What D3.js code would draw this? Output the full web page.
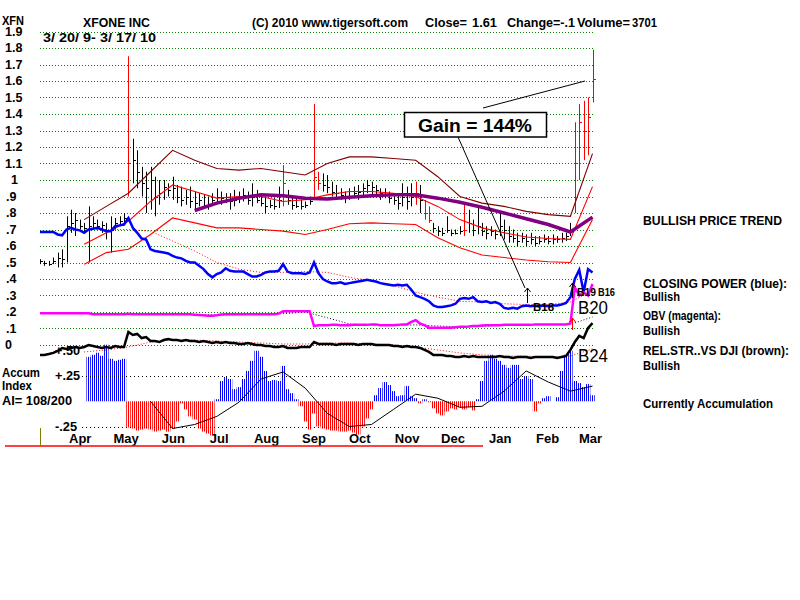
<!DOCTYPE html>
<html><head><meta charset="utf-8">
<script src="https://cdn.jsdelivr.net/npm/d3@7"></script>
<style>body{margin:0;background:#fff}svg text{font-family:"Liberation Sans",Arial,sans-serif}</style>
</head><body><svg id="c" width="800" height="600"></svg>
<script>
// ---------------- DATA ----------------
const priceTicks = [0,0.1,0.2,0.3,0.4,0.5,0.6,0.7,0.8,0.9,1.0,1.1,1.2,1.3,1.4,1.5,1.6,1.7,1.8,1.9];
const monthTicks = ["2009-04-15","2009-05-15","2009-06-15","2009-07-15","2009-08-15","2009-09-15","2009-10-15","2009-11-15","2009-12-15","2010-01-15","2010-02-15","2010-03-15"];
const dateRange = ["2009-03-20","2010-03-17"];
const accumTicks = [0.5,0.25,-0.25];
const accumTickLabels = ["+.50","+.25","-.25"];

// daily bars sampled every 2 trading days
const high = [.52,.51,.51,.53,.56,.58,.78,.82,.80,.76,
 .74,.84,.78,.76,.75,.74,.78,.77,.78,.80,
 1.75,1.25,1.18,1.08,1.05,1.08,1.02,1.00,1.00,.98,
 1.02,.97,.96,.94,.96,.93,.92,.91,.90,.92,
 .95,.93,.92,.92,.94,.93,.95,.93,.98,.94,
 .92,.90,.88,.89,.96,1.09,.94,.90,.89,.88,
 .87,.90,1.46,1.05,1.04,1.03,.99,.97,.95,.93,
 .95,.96,.97,.98,1.00,.99,.97,.95,.95,.93,
 .92,.91,.98,.96,.98,.99,.97,.88,.84,.74,
 .72,.71,.78,.70,.70,.72,.85,.82,.76,.84,
 .74,.72,.72,.70,.80,.76,.72,.70,.68,.68,
 .67,.68,.66,.66,.67,.66,.67,.66,.68,.68,
 .74,1.35,1.46,1.48,1.50,1.79];
const low = [.49,.48,.48,.49,.47,.47,.50,.68,.66,.70,
 .68,.50,.70,.70,.68,.64,.56,.70,.72,.74,
 .90,.98,.95,.90,.80,.82,.78,.85,.88,.90,
 .88,.86,.84,.85,.83,.82,.84,.83,.82,.85,
 .86,.85,.86,.82,.84,.86,.87,.85,.84,.86,
 .84,.80,.83,.82,.83,.84,.85,.82,.83,.82,
 .83,.85,.88,.94,.93,.92,.90,.89,.88,.86,
 .88,.89,.88,.90,.92,.91,.90,.88,.89,.86,
 .85,.82,.84,.82,.84,.85,.80,.76,.74,.68,
 .66,.66,.68,.66,.67,.67,.66,.68,.66,.67,
 .66,.64,.66,.64,.66,.64,.62,.62,.60,.62,
 .60,.61,.60,.61,.62,.61,.61,.62,.62,.63,
 .66,.80,1.00,1.12,1.15,1.47];
const close = [.51,.50,.49,.51,.53,.52,.72,.74,.76,.72,
 .71,.72,.74,.72,.73,.70,.70,.74,.75,.77,
 1.10,1.12,1.05,.98,.95,1.00,.90,.92,.96,.94,
 .95,.90,.88,.90,.87,.86,.88,.85,.84,.88,
 .90,.89,.90,.87,.88,.90,.91,.88,.90,.88,
 .86,.84,.85,.84,.88,.98,.88,.85,.84,.84,
 .85,.87,1.02,.98,.97,.96,.93,.92,.91,.89,
 .90,.92,.93,.95,.97,.96,.94,.92,.91,.89,
 .88,.86,.90,.87,.90,.92,.88,.80,.76,.71,
 .69,.68,.70,.68,.68,.69,.70,.74,.70,.72,
 .69,.68,.69,.67,.72,.70,.66,.65,.63,.65,
 .63,.64,.62,.63,.64,.63,.64,.64,.65,.66,
 .70,1.10,1.35,1.30,1.38,1.61];
const highVolumeBars = [20,55,62,63,85,87,88,96,121,122,123,124,125];

const closingPower = [.685,.685,.685,.685,.67,.665,.70,.71,.70,.695,
 .68,.70,.705,.71,.70,.69,.69,.72,.725,.73,
 .77,.71,.68,.645,.64,.58,.57,.565,.56,.555,
 .54,.53,.525,.51,.50,.50,.48,.46,.43,.41,
 .43,.44,.465,.45,.445,.445,.445,.43,.415,.415,
 .425,.44,.445,.445,.45,.49,.445,.435,.435,.435,
 .43,.44,.50,.435,.40,.385,.375,.375,.38,.37,
 .375,.38,.385,.39,.395,.39,.385,.375,.37,.365,
 .36,.365,.36,.365,.335,.30,.29,.28,.265,.24,
 .23,.23,.235,.24,.25,.28,.285,.28,.29,.265,
 .26,.265,.255,.26,.25,.225,.22,.225,.22,.235,
 .24,.235,.24,.235,.24,.235,.24,.24,.245,.255,
 .29,.40,.455,.32,.46,.44];
const obv = [.192,.192,.192,.192,.192,.192,.192,.192,.192,.192,
 .192,.192,.186,.186,.186,.186,.186,.186,.186,.186,
 .19,.186,.186,.186,.186,.186,.186,.186,.186,.186,
 .186,.186,.186,.186,.186,.184,.182,.18,.178,.178,
 .18,.185,.186,.186,.186,.186,.186,.186,.186,.186,
 .186,.186,.186,.186,.19,.205,.205,.205,.205,.205,
 .205,.205,.115,.12,.12,.12,.122,.122,.12,.12,
 .12,.122,.122,.122,.122,.125,.125,.12,.12,.12,
 .12,.122,.125,.125,.14,.15,.13,.12,.105,.105,
 .105,.105,.105,.105,.108,.11,.11,.112,.115,.115,
 .118,.12,.12,.12,.12,.122,.122,.122,.122,.122,
 .122,.122,.125,.125,.125,.125,.125,.125,.125,.125,
 .13,.35,.30,.32,.30,.37];
const relStr = [-.061,-.061,-.055,-.048,-.036,-.018,-.024,-.018,-.012,-.018,
 -.012,0,-.006,-.012,-.018,-.012,-.018,-.006,-.012,-.012,
 .079,.061,.067,.042,.048,.024,.024,.018,.030,.036,
 .030,.030,.024,.030,.024,.024,.018,.024,.018,.012,
 .018,.012,.018,.012,.012,.006,.006,.012,.006,0,
 0,-.006,-.006,-.012,-.012,-.006,-.018,-.018,-.018,-.012,
 -.012,-.012,.018,.006,.006,.006,.006,0,.006,.006,
 .006,.006,0,.006,.006,.006,0,0,0,0,
 -.006,-.006,-.012,-.006,-.012,-.012,-.018,-.030,-.042,-.061,
 -.061,-.061,-.067,-.067,-.073,-.073,-.067,-.073,-.067,-.073,
 -.073,-.073,-.073,-.073,-.067,-.073,-.073,-.079,-.073,-.073,
 -.073,-.079,-.073,-.073,-.073,-.073,-.073,-.079,-.073,-.067,
 -.030,.018,.055,.042,.103,.133];
const accum = [0,0,0,0,0,0,0,0,0,0,
 0,.44,.46,.48,.45,.56,.42,.40,.41,.42,
 -.26,-.27,-.29,-.28,-.27,-.28,-.30,-.29,-.28,-.30,
 -.27,-.20,-.02,-.08,-.15,-.18,-.27,-.30,-.32,-.34,
 .02,.20,.24,.22,.12,.14,.22,.30,.40,.50,
 .44,.30,.20,.21,.20,.35,.12,.08,.02,-.05,
 -.20,-.28,-.12,-.25,-.27,-.28,-.29,-.29,-.30,-.30,
 -.29,-.31,-.33,-.25,-.17,-.08,.06,.13,.19,.16,
 .10,.05,.06,.15,.05,.03,-.02,.02,-.01,-.07,
 -.12,-.14,-.10,-.07,-.08,-.06,-.08,-.06,-.09,.02,
 .20,.40,.46,.42,.40,.36,.33,.36,.36,.22,
 .25,.22,-.10,-.02,.03,.05,0,.04,.30,.46,
 .50,.20,.18,.14,.17,.06];

// smooth studies sampled every 5th bar (every 10 trading days)
const closingPowerMA = [null,null,.70,.70,.70,.69,.63,.57,.50,.46,.44,.44,.445,.44,.41,.39,.36,.32,.29,.265,.26,.25,.245,.245,.26,.33];
const obvMA = [.192,.192,.192,.19,.188,.186,.186,.184,.182,.184,.186,.19,.20,.165,.128,.12,.12,.122,.115,.11,.112,.12,.122,.125,.125,.17];
const bandUpper = [null,null,.76,.84,.92,1.05,1.18,1.12,1.07,1.06,1.07,1.05,1.03,1.10,1.14,1.14,1.13,1.12,1.02,.90,.86,.84,.81,.79,.78,1.16];
const bandMid = [null,null,.61,.68,.75,.87,.97,.93,.89,.90,.90,.87,.88,.91,.93,.93,.92,.90,.84,.76,.71,.68,.655,.645,.64,.96];
const bandLower = [null,null,.49,.56,.58,.67,.77,.74,.71,.71,.70,.69,.67,.70,.735,.74,.735,.73,.65,.59,.545,.53,.515,.505,.50,.76];
const trendMA = [null,null,null,null,null,null,null,.815,.86,.89,.91,.905,.89,.885,.895,.905,.91,.91,.89,.865,.835,.80,.765,.73,.685,.775];
const relStrMA = [null,null,-.042,-.03,-.012,.018,.03,.03,.024,.018,.012,.006,.006,.012,.012,.006,0,-.012,-.03,-.048,-.06,-.067,-.067,-.073,-.067,-.024];
const accumMA = [null,null,null,null,null,0,-.27,-.23,-.15,-.01,.22,.29,.13,-.12,-.25,-.23,-.08,.07,.03,-.06,-.05,.10,.30,.19,.10,.15];
const SAMPLE = 5;

// ---------------- CHART ----------------
const svg = d3.select("#c");
const N = close.length;
const x = d3.scaleLinear().domain([0, N-1]).range([40, 592.5]);
const xs = k => x(k*SAMPLE);
const y = d3.scaleLinear().domain([0, 1.9]).range([345, 31.5]);
const yA = d3.scaleLinear().domain([-0.25, 0.25]).range([426.5, 376]);
const parse = d3.timeParse("%Y-%m-%d");
const xt = d3.scaleTime().domain(dateRange.map(parse)).range([40, 593]);

const defs = svg.append("defs");
[["pBlue","#0000ff"],["pRed","#ff0000"]].forEach(([id,c])=>{
  const p = defs.append("pattern").attr("id",id).attr("width",2).attr("height",4).attr("patternUnits","userSpaceOnUse");
  p.append("rect").attr("width",1).attr("height",4).attr("fill",c);
});

function txt(s, px, py, o={}) {
  const t = svg.append("text").attr("x",px).attr("y",py).text(s)
    .attr("font-size", o.size||13).attr("font-weight", o.weight||"bold").attr("fill", o.fill||"#000");
  if (o.len) t.attr("textLength", o.len).attr("lengthAdjust","spacingAndGlyphs");
  return t;
}

// gridlines
svg.append("g").selectAll("line").data(priceTicks).join("line")
  .attr("x1",40).attr("x2",595).attr("y1",d=>Math.round(y(d))+.5).attr("y2",d=>Math.round(y(d))+.5)
  .attr("stroke","#008000").attr("stroke-dasharray","1,2");

// y axis labels
const yAxis = d3.axisRight(y).tickValues(priceTicks).tickSize(0)
  .tickFormat(d => d===0 ? "0" : (Math.abs(d-1)<1e-9 ? "1" : (d<1 ? "."+Math.round(d*10) : d.toFixed(1))));
const gy = svg.append("g").attr("transform","translate(2,0)").call(yAxis);
gy.select(".domain").remove();
gy.selectAll("text").attr("font-size",12.5).attr("font-weight","bold").attr("fill","#000")
  .attr("font-family","Liberation Sans, Arial, sans-serif").attr("dy","0.3em")
  .attr("x", d => Math.abs(d-1)<1e-9 ? 9 : (d>0 && d<1 ? 4 : 3));

// accumulation histogram
svg.append("g").selectAll("rect").data(accum.map((v,i)=>({v,i})).filter(d=>d.v!==0)).join("rect")
  .attr("x",d=>x(d.i)-2.21).attr("width",4.42)
  .attr("y",d=>Math.min(yA(0),yA(d.v))).attr("height",d=>Math.abs(yA(d.v)-yA(0)))
  .attr("fill",d=>d.v>0?"url(#pBlue)":"url(#pRed)");
// accum dotted levels
svg.append("g").selectAll("line").data([0.25,-0.25]).join("line")
  .attr("x1",82).attr("x2",597).attr("y1",d=>Math.round(yA(d))+.5).attr("y2",d=>Math.round(yA(d))+.5)
  .attr("stroke","#000").attr("stroke-dasharray","1,3");
accumTicks.forEach((v,k)=> txt(accumTickLabels[k], 55, yA(v)+4, {size:12, len: k===2?22:25}));

// price bars
const gb = svg.append("g");
d3.range(N).forEach(i=>{
  const xi = Math.round(x(i))+.5;
  const col = highVolumeBars.includes(i) ? "#ff0000" : "#000";
  gb.append("line").attr("x1",xi).attr("x2",xi).attr("y1",y(high[i])).attr("y2",y(low[i])).attr("stroke",col);
  gb.append("line").attr("x1",xi).attr("x2",xi+2.5).attr("y1",Math.round(y(close[i]))+.5).attr("y2",Math.round(y(close[i]))+.5).attr("stroke",col);
});

const lineS = d3.line().defined(d=>d!=null).x((d,k)=>xs(k)).y(d=>y(d));
const lineD = d3.line().defined(d=>d!=null).x((d,i)=>x(i)).y(d=>y(d));

// bands
svg.append("path").attr("d",lineS(bandUpper)).attr("fill","none").attr("stroke","#800000").attr("stroke-width",1.1);
svg.append("path").attr("d",lineS(bandMid)).attr("fill","none").attr("stroke","#ff0000").attr("stroke-width",1.1);
svg.append("path").attr("d",lineS(bandLower)).attr("fill","none").attr("stroke","#ff0000").attr("stroke-width",1.1);
svg.append("path").attr("d",lineS(trendMA)).attr("fill","none").attr("stroke","#800080").attr("stroke-width",3.5);

// closing power
svg.append("path").attr("d",lineS(closingPowerMA)).attr("fill","none").attr("stroke","#ff0000").attr("stroke-dasharray","1,2");
svg.append("path").attr("d",lineD(closingPower)).attr("fill","none").attr("stroke","#0000ff").attr("stroke-width",2.5);
// OBV
svg.append("path").attr("d",lineS(obvMA)).attr("fill","none").attr("stroke","#000").attr("stroke-dasharray","1,2");
svg.append("path").attr("d",lineD(obv)).attr("fill","none").attr("stroke","#ff00ff").attr("stroke-width",2.5);
// relative strength
svg.append("path").attr("d",lineS(relStrMA)).attr("fill","none").attr("stroke","#ff0000").attr("stroke-dasharray","1,2");
svg.append("path").attr("d",lineD(relStr)).attr("fill","none").attr("stroke","#000").attr("stroke-width",2.5);
// accum MA
svg.append("path").attr("d",d3.line().defined(d=>d!=null).x((d,k)=>xs(k)).y(d=>yA(d))(accumMA))
  .attr("fill","none").attr("stroke","#000").attr("stroke-width",1);

// month axis
const xAxis = d3.axisBottom(xt).tickValues(monthTicks.map(parse)).tickFormat(d3.timeFormat("%b")).tickSize(0);
const gx = svg.append("g").attr("transform","translate(0,443)").call(xAxis);
gx.select(".domain").remove();
gx.selectAll("text").attr("y",0).attr("dy",0).attr("font-size",13).attr("font-weight","bold").attr("fill","#000")
  .attr("font-family","Liberation Sans, Arial, sans-serif");

// bottom markers
svg.append("line").attr("x1",5).attr("x2",483).attr("y1",446).attr("y2",446).attr("stroke","#ff0000").attr("stroke-width",1.5);
svg.append("line").attr("x1",40.5).attr("x2",40.5).attr("y1",428).attr("y2",446).attr("stroke","#808000");

// titles
txt("XFN", 2, 24.5, {size:12, len:22});
txt("XFONE INC", 83, 27, {len:67});
txt("(C) 2010 www.tigersoft.com", 252, 27, {len:156});
txt("Close=", 425, 27, {len:42});
txt("1.61", 472, 27, {len:25});
txt("Change=-.1", 507, 27, {len:68});
txt("Volume=", 577, 27, {len:53});
txt("3701", 632, 27, {len:25});
txt("3/ 20/ 9- 3/ 17/ 10", 43, 42, {len:113});

// right panel
txt("BULLISH PRICE TREND", 643, 225, {size:12, len:139});
txt("CLOSING POWER (blue):", 643, 288, {size:12, len:144});
txt("Bullish", 643, 301, {size:12, len:37});
txt("OBV (magenta):", 643, 320, {size:12, len:78});
txt("Bullish", 643, 335, {size:12, len:37});
txt("REL.STR..VS DJI (brown):", 643, 355, {size:12, len:146});
txt("Bullish", 643, 370, {size:12, len:37});
txt("Currently Accumulation", 643, 408, {size:12, len:130});

// accum labels left
txt("Accum", 2, 377, {size:12, len:38});
txt("Index", 2, 390, {size:12, len:30});
txt("AI= 108/200", 2, 405, {size:12, len:70});

// gain annotation
svg.append("line").attr("x1",483).attr("y1",108).attr("x2",585).attr("y2",81).attr("stroke","#000");
svg.append("line").attr("x1",458).attr("y1",137).attr("x2",525).attr("y2",288).attr("stroke","#000");
svg.append("rect").attr("x",404.5).attr("y",112.5).attr("width",142).attr("height",24.5).attr("fill","#fff").attr("stroke","#000").attr("stroke-width",1.5);
txt("Gain = 144%", 418, 132, {size:18, len:114});

// signals
function arrow(px, y1, y2, col) {
  svg.append("line").attr("x1",px).attr("x2",px).attr("y1",y1).attr("y2",y2).attr("stroke",col);
  svg.append("path").attr("d",`M${px-3},${y2+4}L${px},${y2}L${px+3},${y2+4}`).attr("fill","none").attr("stroke",col);
}
arrow(527.5, 303, 288, "#000");
txt("B18", 533, 311, {size:11, len:21});
arrow(572.5, 298, 283, "#000");
arrow(572.5, 330, 318, "#ff0000");
txt("B19", 577, 296, {size:10, len:19});
txt("B16", 598, 296, {size:10, len:17});
txt("B20", 578, 314, {size:19, weight:"normal", len:30});
txt("B24", 578, 362, {size:19, weight:"normal", len:30});
</script></body></html>
